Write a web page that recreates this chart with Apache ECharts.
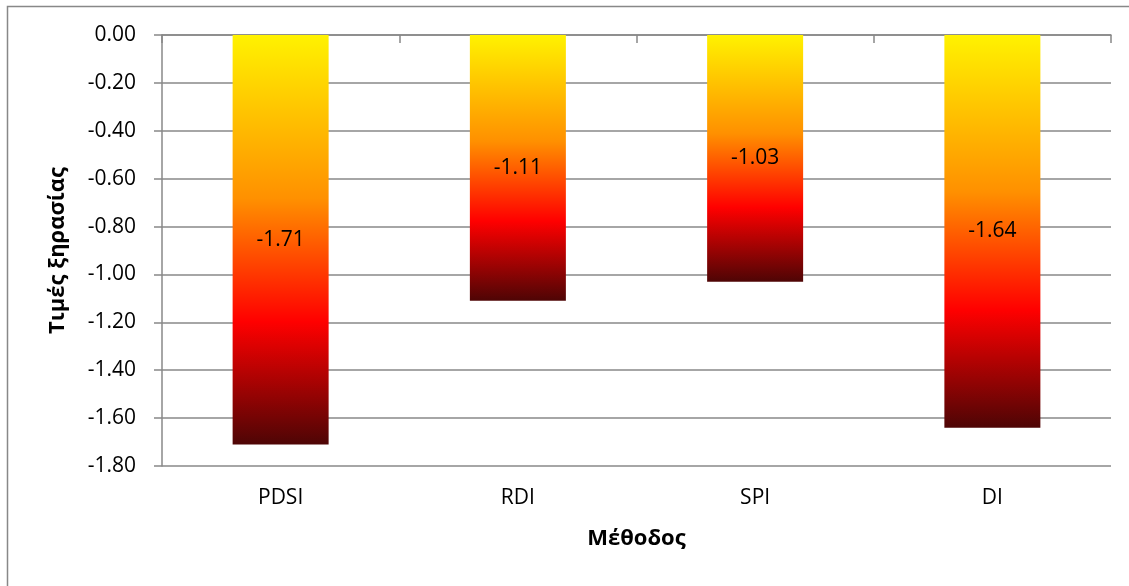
<!DOCTYPE html>
<html>
<head>
<meta charset="utf-8">
<script src="https://cdn.jsdelivr.net/npm/echarts@6/dist/echarts.min.js"></script>
<style>html,body{margin:0;padding:0;background:#fff;}#c{width:1129px;height:586px;}</style>
</head>
<body>
<div id="c"></div>
<script>
const categories = ['PDSI', 'RDI', 'SPI', 'DI'];
const values = [-1.71, -1.11, -1.03, -1.64];
const yTicks = { min: -1.8, max: 0, interval: 0.2 };
const xName = 'Μέθοδος';
const yName = 'Τιμές ξηρασίας';

const FONT = '"Open Sans", "Noto Sans", sans-serif';
const grad = {
  type: 'linear', x: 0, y: 0, x2: 0, y2: 1,
  colorStops: [
    { offset: 0, color: '#FFF200' },
    { offset: 0.40, color: '#FF9000' },
    { offset: 0.70, color: '#FF0000' },
    { offset: 1, color: '#4E0505' }
  ]
};
const chart = echarts.init(document.getElementById('c'), null, { renderer: 'canvas' });
chart.setOption({
  animation: false,
  backgroundColor: '#fff',
  graphic: [{
    type: 'rect', shape: { x: 7.5, y: 6.5, width: 1300, height: 700 },
    style: { fill: 'none', stroke: '#888', lineWidth: 1.5 }, silent: true, z: -1
  }],
  grid: { left: 162, right: 18, top: 35, bottom: 120, containLabel: false },
  xAxis: [{
    type: 'category', data: categories, position: 'bottom',
    axisLine: { show: false }, axisTick: { show: false },
    axisLabel: { color: '#000', fontFamily: FONT, fontSize: 21, margin: 22 },
    name: xName, nameLocation: 'middle', nameGap: 62,
    nameTextStyle: { color: '#000', fontFamily: FONT, fontSize: 22, fontWeight: 'bold' }
  }, {
    type: 'category', data: categories, position: 'top',
    axisLine: { show: true, onZero: false, lineStyle: { color: '#888', width: 1.5 } },
    axisTick: { show: true, inside: true, length: 8, lineStyle: { color: '#888', width: 1.5 } },
    axisLabel: { show: false }
  }],
  yAxis: {
    type: 'value', min: yTicks.min, max: yTicks.max, interval: yTicks.interval,
    axisLine: { show: true, lineStyle: { color: '#888', width: 1.5 } },
    axisTick: { show: true, length: 8, lineStyle: { color: '#888', width: 1.5 } },
    splitLine: { show: true, lineStyle: { color: '#888', width: 1.5 } },
    axisLabel: { color: '#000', fontFamily: FONT, fontSize: 21, margin: 26, formatter: v => v.toFixed(2) },
    name: yName, nameLocation: 'middle', nameGap: 93,
    nameTextStyle: { color: '#000', fontFamily: FONT, fontSize: 22, fontWeight: 'bold' }
  },
  series: [{
    type: 'bar', data: values, xAxisIndex: 0, barWidth: 96,
    itemStyle: { color: grad },
    label: { show: true, position: 'inside', color: '#000', fontFamily: FONT, fontSize: 21,
      formatter: p => p.value.toFixed(2) }
  }]
});
</script>
</body>
</html>
